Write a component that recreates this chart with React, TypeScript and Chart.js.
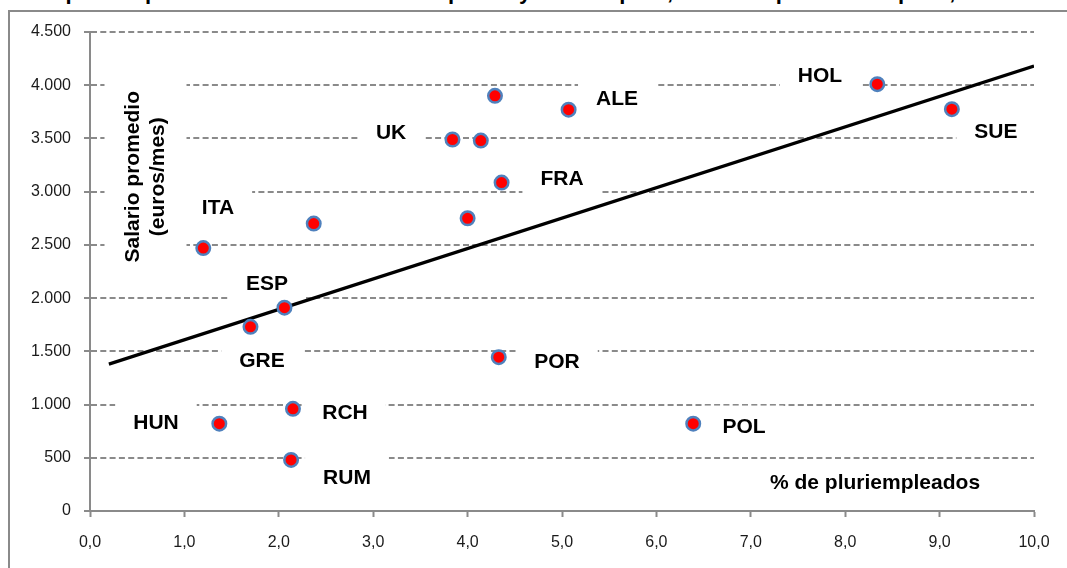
import { useEffect, useRef } from 'react';
import { Chart, registerables } from 'chart.js';

Chart.register(...registerables);

// ---- data ----
const pctPluriempleados = [1.2, 2.37, 2.06, 1.7, 1.37, 2.15, 2.13, 6.39, 4.29, 5.07, 3.84, 4.14, 4.36, 4.0, 4.33, 8.34, 9.13];
const salarioPromedio = [2470, 2700, 1910, 1730, 820, 960, 480, 820, 3900, 3770, 3490, 3480, 3085, 2750, 1445, 4010, 3775];

const trendX = [0.2, 10];
const trendY = [1380, 4180];

const labelText = ['ITA', 'ESP', 'GRE', 'HUN', 'RCH', 'RUM', 'POL', 'UK', 'ALE', 'FRA', 'POR', 'HOL', 'SUE'];
const labelX = [1.356, 1.875, 1.822, 0.699, 2.701, 2.722, 6.928, 3.189, 5.583, 5.0, 4.947, 7.733, 9.597];
const labelY = [2858, 2144, 1412, 831, 924, 314, 793, 3561, 3880, 3130, 1403, 4096, 3571];

const yAxisTitle = ['Salario promedio', '(euros/mes)'];
const yAxisTitlePos = [0.588, 3140];
const xAxisTitle = '% de pluriempleados';
const xAxisTitlePos = [8.316, 267];

const titleText = '% de pluriempleados sobre el total de ocupados y tasa de paro, datos de países europeos, año 2010';

const xMin = 0, xMax = 10, xStep = 1;
const yMin = 0, yMax = 4500, yStep = 500;

const GRAY = '#8a8a8a';
const LABEL_FONT = 'bold 21px "Liberation Sans", Arial, sans-serif';

const annotations = {
  id: 'annotations',
  beforeDatasetsDraw(chart: any) {
    const { ctx, scales } = chart;
    const xs = scales.x, ys = scales.y;
    ctx.save();
    ctx.font = LABEL_FONT;
    ctx.textAlign = 'center';
    ctx.textBaseline = 'middle';
    labelText.forEach((t, i) => {
      const px = xs.getPixelForValue(labelX[i]);
      const py = ys.getPixelForValue(labelY[i]);
      const w = ctx.measureText(t).width;
      ctx.fillStyle = '#ffffff';
      ctx.fillRect(px - w / 2 - 18, py - 21, w + 36, 42);
      ctx.fillStyle = '#000000';
      ctx.fillText(t, px, py + 1);
    });
    const yx = xs.getPixelForValue(yAxisTitlePos[0]);
    const yy = ys.getPixelForValue(yAxisTitlePos[1]);
    const tw = Math.max(...yAxisTitle.map((s) => ctx.measureText(s).width));
    ctx.fillStyle = '#ffffff';
    ctx.fillRect(yx - 41, yy - tw / 2 - 14, 82, tw + 28);
    ctx.translate(yx, yy);
    ctx.rotate(-Math.PI / 2);
    ctx.fillStyle = '#000000';
    ctx.fillText(yAxisTitle[0], 0, -12.5);
    ctx.fillText(yAxisTitle[1], 0, 12.5);
    ctx.setTransform(1, 0, 0, 1, 0, 0);
    ctx.fillText(xAxisTitle, xs.getPixelForValue(xAxisTitlePos[0]), ys.getPixelForValue(xAxisTitlePos[1]) + 1);
    ctx.restore();
  },
};

export default function App() {
  const canvasRef = useRef<HTMLCanvasElement | null>(null);

  useEffect(() => {
    if (!canvasRef.current) return;
    const chart = new Chart(canvasRef.current, {
      type: 'scatter',
      data: {
        datasets: [
          {
            type: 'line',
            data: trendX.map((x, i) => ({ x, y: trendY[i] })),
            borderColor: '#000000',
            borderWidth: 3.2,
            pointRadius: 0,
            fill: false,
            order: 2,
          } as any,
          {
            type: 'scatter',
            data: pctPluriempleados.map((x, i) => ({ x, y: salarioPromedio[i] })),
            backgroundColor: '#ff0000',
            borderColor: '#4f81bd',
            borderWidth: 2.5,
            pointRadius: 6.75,
            order: 1,
          },
        ],
      },
      options: {
        animation: false,
        responsive: false,
        devicePixelRatio: 1,
        layout: { padding: { left: 0, top: 32, right: 33, bottom: 0 } },
        plugins: { legend: { display: false }, tooltip: { enabled: false }, title: { display: false } },
        scales: {
          x: {
            type: 'linear',
            min: xMin,
            max: xMax,
            afterFit: (s: any) => { s.height = 57; },
            ticks: {
              stepSize: xStep,
              padding: 16,
              color: '#1a1a1a',
              font: { family: '"Liberation Sans", Arial, sans-serif', size: 16 },
              callback: (v: any) => Number(v).toFixed(1).replace('.', ','),
              maxRotation: 0,
            },
            grid: {
              drawOnChartArea: false,
              drawTicks: true,
              tickLength: 6,
              tickColor: GRAY,
              tickWidth: 2,
            },
            border: { display: true, color: GRAY, width: 2 },
          },
          y: {
            type: 'linear',
            min: yMin,
            max: yMax,
            afterFit: (s: any) => { s.width = 90; },
            ticks: {
              stepSize: yStep,
              padding: 13,
              color: '#1a1a1a',
              font: { family: '"Liberation Sans", Arial, sans-serif', size: 16 },
              callback: (v: any) => Number(v).toLocaleString('de-DE'),
            },
            grid: {
              color: (c: any) => (c.tick && c.tick.value === 0 ? 'rgba(0,0,0,0)' : GRAY),
              lineWidth: 2,
              drawTicks: true,
              tickLength: 6,
              tickColor: GRAY,
              tickWidth: 2,
              tickBorderDash: [],
            },
            border: { display: true, color: GRAY, width: 2, dash: [6, 3.3] },
          },
        },
      },
      plugins: [annotations],
    });
    return () => chart.destroy();
  }, []);

  return (
    <div style={{ position: 'fixed', left: 0, top: 0, width: 1067, height: 568, overflow: 'hidden', background: '#fff' }}>
      <div
        style={{
          position: 'absolute',
          left: 8,
          top: -19,
          whiteSpace: 'nowrap',
          font: 'bold 22px "Liberation Sans", Arial, sans-serif',
          lineHeight: '22px',
          color: '#000',
        }}
      >
        {titleText}
      </div>
      <div
        style={{
          position: 'absolute',
          left: 8,
          top: 10,
          width: 1100,
          height: 600,
          borderLeft: `2px solid ${GRAY}`,
          borderTop: `2px solid ${GRAY}`,
        }}
      />
      <canvas ref={canvasRef} width={1067} height={568} style={{ position: 'absolute', left: 0, top: 0, width: 1067, height: 568 }} />
    </div>
  );
}
